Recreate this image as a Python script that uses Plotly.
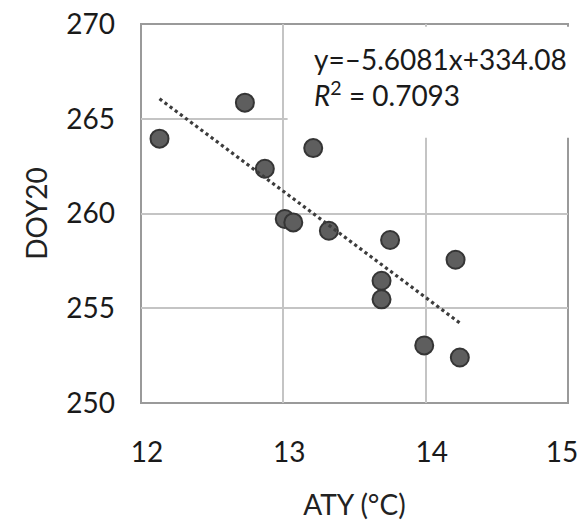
import plotly.graph_objects as go

# Data
aty = [12.13, 12.73, 12.87, 13.21, 13.01, 13.07, 13.32, 13.75, 13.69, 13.69, 14.21, 13.99, 14.24]
doy20 = [263.95, 265.85, 262.36, 263.45, 259.71, 259.53, 259.09, 258.60, 256.45, 255.47, 257.56, 253.04, 252.40]

slope = -5.6081
intercept = 334.08
r2 = 0.7093

x_ticks = [12, 13, 14, 15]
y_ticks = [250, 255, 260, 265, 270]

FONT = "Lato"
BORDER = "#9a9a9a"
X_RANGE = [x_ticks[0], x_ticks[-1]]
Y_RANGE = [y_ticks[0], y_ticks[-1]]
x_min, x_max = min(aty), max(aty)
trend_x = [x_min, x_max]
trend_y = [slope * v + intercept for v in trend_x]

fig = go.Figure()
fig.add_trace(go.Scatter(
    x=aty, y=doy20, mode="markers",
    marker=dict(size=18, color="#5e5e5e", line=dict(color="#353535", width=2)),
    showlegend=False,
))
# trend line on an overlaying axis with the same range (carries the last tick label)
fig.add_trace(go.Scatter(
    x=trend_x, y=trend_y, mode="lines", xaxis="x2", yaxis="y",
    line=dict(color="#3c3c3c", width=3.2, dash="dot"),
    hoverinfo="skip", showlegend=False,
))

# plot-area frame
fig.add_shape(type="rect", xref="paper", yref="paper", x0=0, x1=1, y0=0, y1=1,
              line=dict(color=BORDER, width=2), fillcolor="rgba(0,0,0,0)", layer="between")

# white text box behind the equation (hides grid / border like the original)
fig.add_shape(type="rect", xref="paper", yref="y",
              x0=(13.03 - 12) / 3, x1=1.05, y0=264.0, y1=269.85,
              fillcolor="white", line=dict(width=0), layer="above")

fig.add_annotation(
    x=13.2, y=267.2, xref="x", yref="y", xanchor="left", yanchor="middle",
    align="left", showarrow=False,
    text=f"y=\u2013{abs(slope):.4f}x+{intercept:.2f}<br><i>R</i><sup>2</sup> = {r2:.4f}",
    font=dict(family=FONT, size=28, color="#1a1a1a"),
)

tickfont = dict(family=FONT, size=28, color="#1a1a1a")
axis_common = dict(
    showline=False, mirror=False, automargin=False,
    gridcolor="#c4c4c4", gridwidth=1.5,
    zeroline=False, ticks="",
    tickfont=tickfont,
)

fig.update_layout(
    xaxis=dict(
        range=X_RANGE, tickvals=x_ticks[:-1], ticktext=[str(v) for v in x_ticks[:-1]],
        showgrid=True,
        title=dict(text="ATY (°C)", font=dict(family=FONT, size=28, color="#222"), standoff=28),
        ticklabelstandoff=30, ticklabelshift=6,
        **axis_common,
    ),
    xaxis2=dict(
        range=X_RANGE, overlaying="x", side="bottom", anchor="y",
        tickvals=x_ticks[-1:], ticktext=[str(v) for v in x_ticks[-1:]],
        showgrid=False,
        ticklabelstandoff=30, ticklabelshift=-6,
        **axis_common,
    ),
    yaxis=dict(
        range=Y_RANGE, tickvals=y_ticks, ticktext=[str(v) for v in y_ticks],
        showgrid=True,
        title=dict(text="DOY20", font=dict(family=FONT, size=28, color="#222"), standoff=10),
        ticklabelstandoff=25,
        **axis_common,
    ),
    width=581, height=524,
    margin=dict(l=141, r=13, t=24, b=121, autoexpand=False),
    paper_bgcolor="white", plot_bgcolor="white",
    font=dict(family=FONT),
)

fig.write_html(
    "out.html",
    config={"displayModeBar": False},
    post_script="document.body.style.margin='0';document.body.style.overflow='hidden';",
)
